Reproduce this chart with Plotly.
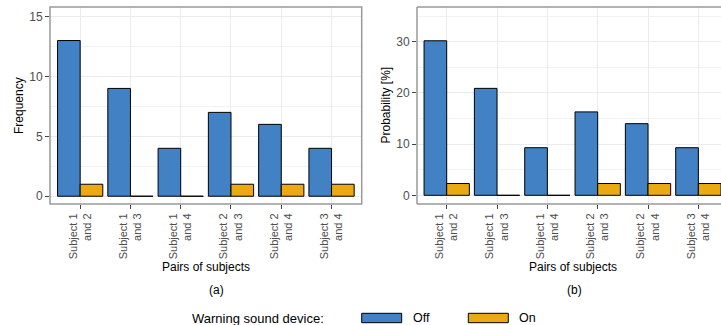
import plotly.graph_objects as go

# ---- data ----
pairs = ["Subject 1<br>and 2", "Subject 1<br>and 3", "Subject 1<br>and 4",
         "Subject 2<br>and 3", "Subject 2<br>and 4", "Subject 3<br>and 4"]
freq_off = [13, 9, 4, 7, 6, 4]
freq_on = [1, 0, 0, 1, 1, 1]
prob_off = [30.2, 20.9, 9.3, 16.3, 14.0, 9.3]
prob_on = [2.3, 0, 0, 2.3, 2.3, 2.3]
series_names = ["Off", "On"]
colors = ["#4281c4", "#ebaa12"]
left_yticks = [0, 5, 10, 15]
right_yticks = [0, 10, 20, 30]

W, H = 721, 325
ML, MR, MT, MB = 50, 0, 7, 121
PW = W - ML - MR
PH = H - MT - MB


def px(x):
    return (x - ML) / PW


def py(y):
    return (H - MB - y) / PH


def shown(vals):
    # zero-height bars are drawn as a flat outline (as in the reference)
    m = max(vals)
    return [v if v != 0 else m * 1e-4 for v in vals]


fig = go.Figure()
for (off, on, xa, ya) in [(freq_off, freq_on, "x", "y"), (prob_off, prob_on, "x2", "y2")]:
    for name, vals, c in zip(series_names, [off, on], colors):
        fig.add_trace(go.Bar(
            x=pairs, y=shown(vals), name=name, xaxis=xa, yaxis=ya,
            marker=dict(color=c, line=dict(color="black", width=1)),
            showlegend=False, customdata=vals,
            hovertemplate="%{x}: %{customdata}<extra>" + name + "</extra>",
        ))

grid_major = "#ebebeb"
grid_minor = "#f2f2f2"
tickfont_x = dict(family="Liberation Sans, Arial, sans-serif", size=11, color="#4d4d4d")
tickfont_y = dict(family="Liberation Sans, Arial, sans-serif", size=12, color="#4d4d4d")

xcommon = dict(type="category", showgrid=True, gridcolor=grid_major, gridwidth=1.3,
               ticks="outside", ticklen=4, tickcolor="#444", tickwidth=1,
               tickangle=-90, tickfont=tickfont_x, zeroline=False, showline=False,
               fixedrange=True)
ycommon = dict(showgrid=True, gridcolor=grid_major, gridwidth=1.3,
               ticks="outside", ticklen=4, tickcolor="#444", tickwidth=1,
               tickfont=tickfont_y, zeroline=False, showline=False, fixedrange=True)

fig.update_layout(
    width=W, height=H,
    margin=dict(l=ML, r=MR, t=MT, b=MB, pad=0),
    paper_bgcolor="white", plot_bgcolor="white",
    barmode="group", bargap=0.1, bargroupgap=0,
    font=dict(family="Liberation Sans, Arial, sans-serif", color="black"),
    xaxis=dict(domain=[0, px(361.7)], range=[-0.6, 5.6], anchor="y", **xcommon),
    yaxis=dict(domain=[0, 1], range=[-0.65, 15.8], anchor="x",
               tickvals=left_yticks,
               minor=dict(dtick=2.5, tick0=0, showgrid=True, gridcolor=grid_minor,
                          gridwidth=0.8, ticks=""),
               **ycommon),
    xaxis2=dict(domain=[px(417), 1], range=[-0.59, 5.45], anchor="y2", **xcommon),
    yaxis2=dict(domain=[0, 1], range=[-1.7, 36.8], anchor="x2",
                tickvals=right_yticks,
                minor=dict(dtick=5, tick0=0, showgrid=True, gridcolor=grid_minor,
                           gridwidth=0.8, ticks=""),
                **ycommon),
)

border = dict(color="#999999", width=1.5)
shapes = [
    dict(type="rect", xref="x domain", yref="y domain", x0=0, x1=1, y0=0, y1=1,
         line=border, layer="above"),
    dict(type="line", xref="x2 domain", yref="y2 domain", x0=0, x1=0, y0=0, y1=1,
         line=border, layer="above"),
    dict(type="line", xref="x2 domain", yref="y2 domain", x0=0, x1=1.02, y0=1, y1=1,
         line=border, layer="above"),
    dict(type="line", xref="x2 domain", yref="y2 domain", x0=0, x1=1.02, y0=0, y1=0,
         line=border, layer="above"),
]

# legend (drawn below the panels)
key_x = [(361.7, 401.7), (468.3, 508.3)]
label_x = [410.7, 516.7]
for (x0, x1), c in zip(key_x, colors):
    shapes.append(dict(type="rect", xref="paper", yref="paper",
                       x0=px(x0), x1=px(x1), y0=py(322.7), y1=py(313.3),
                       fillcolor=c, line=dict(color="black", width=1)))

annots = []
txt = dict(family="Liberation Sans, Arial, sans-serif", size=12, color="black")
for lx, name in zip(label_x, series_names):
    annots.append(dict(x=px(lx), y=py(318), xref="paper", yref="paper", text=name,
                       showarrow=False, xanchor="left", yanchor="middle",
                       font=dict(txt, size=12.5)))
annots.append(dict(x=px(190), y=py(318), xref="paper", yref="paper",
                   text="Warning sound device:", showarrow=False,
                   xanchor="left", yanchor="middle", font=dict(txt, size=13)))
# axis titles
annots.append(dict(x=px(18.5), y=py(105.5), xref="paper", yref="paper", text="Frequency",
                   textangle=-90, showarrow=False, xanchor="center", yanchor="middle", font=txt))
annots.append(dict(x=px(385), y=py(105.5), xref="paper", yref="paper", text="Probability [%]",
                   textangle=-90, showarrow=False, xanchor="center", yanchor="middle", font=txt))
for cx, cap, tx in [(206, "(a)", 216.5), (572.5, "(b)", 574)]:
    annots.append(dict(x=px(cx), y=py(266.5), xref="paper", yref="paper",
                       text="Pairs of subjects", showarrow=False,
                       xanchor="center", yanchor="middle", font=txt))
    annots.append(dict(x=px(tx), y=py(289.5), xref="paper", yref="paper",
                       text=cap, showarrow=False,
                       xanchor="center", yanchor="middle", font=txt))

fig.update_layout(shapes=shapes, annotations=annots)
fig.write_html("out.html", config={"displayModeBar": False})
